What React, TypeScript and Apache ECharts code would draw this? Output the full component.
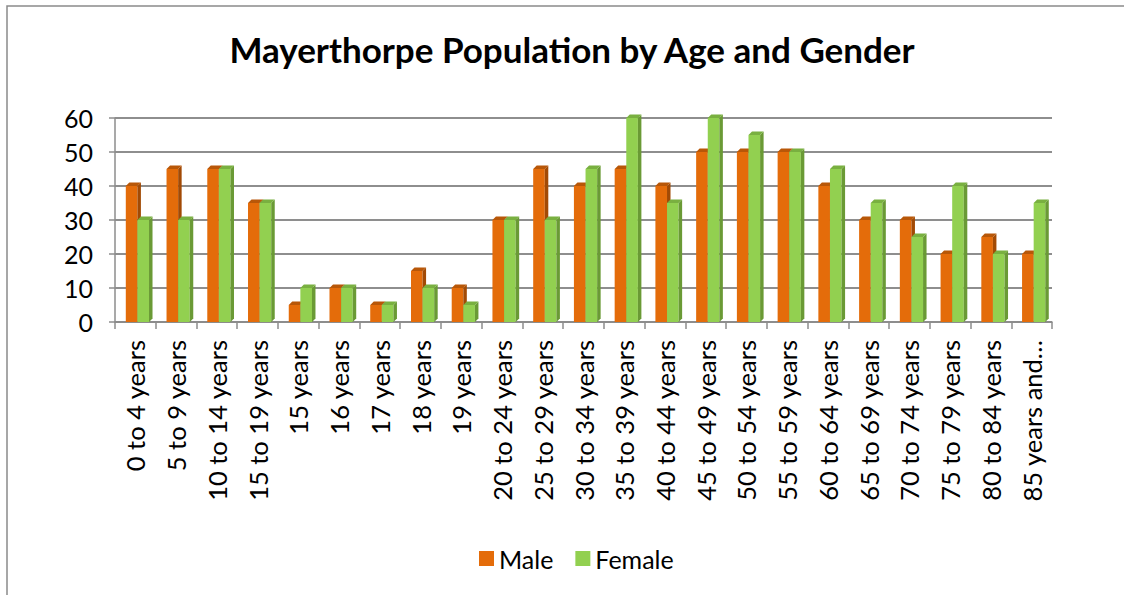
import React, { useEffect, useRef } from "react";
import * as echarts from "echarts";

const categories = [
  "0 to 4 years", "5 to 9 years", "10 to 14 years", "15 to 19 years", "15 years",
  "16 years", "17 years", "18 years", "19 years", "20 to 24 years", "25 to 29 years",
  "30 to 34 years", "35 to 39 years", "40 to 44 years", "45 to 49 years", "50 to 54 years",
  "55 to 59 years", "60 to 64 years", "65 to 69 years", "70 to 74 years", "75 to 79 years",
  "80 to 84 years", "85 years and over",
];
const male = [40, 45, 45, 35, 5, 10, 5, 15, 10, 30, 45, 40, 45, 40, 50, 50, 50, 40, 30, 30, 20, 25, 20];
const female = [30, 30, 45, 35, 10, 10, 5, 10, 5, 30, 30, 45, 60, 35, 60, 55, 50, 45, 35, 25, 40, 20, 35];
const yTicks = [0, 60, 10];

const FONT = "Lato";
const MAX_LABEL = 14;

function makeRender(isMale: boolean, front: string, side: string, top: string) {
  return (params: any, api: any) => {
    const idx = api.value(0);
    const val = api.value(1);
    const base = api.coord([idx, 0]);
    const tip = api.coord([idx, val]);
    const band = api.size([1, 0])[0];
    const w = band * 0.285;
    const d = 3.5;
    const shift = band * 0.05;
    const x0 = isMale ? base[0] - w + shift : base[0] + shift;
    const y0 = tip[1];
    const y1 = base[1];
    return {
      type: "group",
      children: [
        { type: "rect", shape: { x: x0, y: y0, width: w, height: y1 - y0 }, style: { fill: front } },
        {
          type: "polygon",
          shape: { points: [[x0 + w, y0], [x0 + w + d, y0 - d], [x0 + w + d, y1 - d], [x0 + w, y1]] },
          style: { fill: side },
        },
        {
          type: "polygon",
          shape: { points: [[x0, y0], [x0 + d, y0 - d], [x0 + w + d, y0 - d], [x0 + w, y0]] },
          style: { fill: top },
        },
      ],
    };
  };
}

export default function App() {
  const ref = useRef<HTMLDivElement>(null);
  useEffect(() => {
    if (!ref.current) return;
    const chart = echarts.init(ref.current, null, { renderer: "svg" });
    chart.setOption({
      animation: false,
      backgroundColor: "#ffffff",
      title: {
        text: "Mayerthorpe Population by Age and Gender",
        left: 567,
        top: 26,
        textAlign: "center",
        textStyle: { fontFamily: FONT, fontSize: 35, fontWeight: "bold", color: "#000" },
      },
      legend: {
        left: 474,
        top: 541,
        icon: "rect",
        itemWidth: 15,
        itemHeight: 15,
        itemGap: 22,
        textStyle: { fontFamily: FONT, fontSize: 25, color: "#000" },
        data: ["Male", "Female"],
      },
      graphic: [
        {
          type: "rect",
          shape: { x: 7, y: 6, width: 1300, height: 800 },
          style: { fill: "none", stroke: "#8a8a8a", lineWidth: 1.5 },
          silent: true,
        },
      ],
      grid: {
        left: 115,
        right: 72,
        top: 118,
        bottom: 273,
        containLabel: false,
        outerBoundsMode: "none",
      },
      xAxis: {
        type: "category",
        data: categories,
        axisLine: { lineStyle: { color: "#8c8c8c", width: 1.5 } },
        axisTick: { show: true, length: 7, lineStyle: { color: "#8c8c8c", width: 1.5 } },
        axisLabel: {
          rotate: 90,
          interval: 0,
          margin: 18,
          fontFamily: FONT,
          fontSize: 25.5,
          color: "#000",
          formatter: (v: string) => (v.length > MAX_LABEL ? v.slice(0, 12) + "…" : v),
        },
      },
      yAxis: {
        type: "value",
        min: yTicks[0],
        max: yTicks[1],
        interval: yTicks[2],
        axisLine: { show: true, lineStyle: { color: "#8c8c8c", width: 1.5 } },
        axisTick: { show: true, length: 6, lineStyle: { color: "#8c8c8c", width: 1.5 } },
        axisLabel: { margin: 22, fontFamily: FONT, fontSize: 25, color: "#000" },
        splitLine: { lineStyle: { color: "#8e8e8e", width: 2 } },
      },
      series: [
        {
          name: "Male",
          type: "custom",
          itemStyle: { color: "#E46C0A" },
          encode: { x: 0, y: 1 },
          data: male.map((v, i) => [i, v]),
          renderItem: makeRender(true, "#E46C0A", "#A24A05", "#B85708"),
        },
        {
          name: "Female",
          type: "custom",
          itemStyle: { color: "#92D050" },
          encode: { x: 0, y: 1 },
          data: female.map((v, i) => [i, v]),
          renderItem: makeRender(false, "#92D050", "#6A9A35", "#79B040"),
        },
      ],
    });
    return () => chart.dispose();
  }, []);
  return (
    <div
      ref={ref}
      style={{ position: "fixed", left: 0, top: 0, width: 1124, height: 595 }}
    />
  );
}
